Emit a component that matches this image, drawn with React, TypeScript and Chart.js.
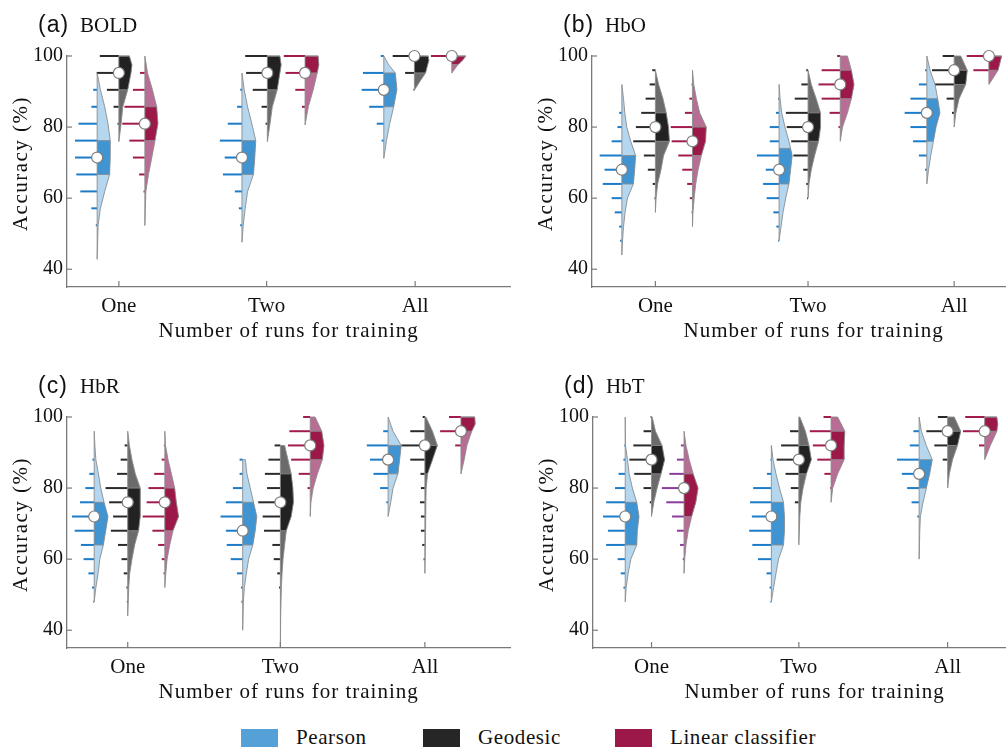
import React, { useEffect, useRef } from "react";
import { Chart, registerables } from "chart.js";
Chart.register(...registerables);

type Violin = { x: number; med: number; q1: number; q3: number; shape: number[][]; rug: number[][] };

const categories = ["One", "Two", "All"];
const methods = ["Pearson", "Geodesic", "Linear classifier"];
const yTicks = [40, 60, 80, 100];
const panelLetters = ["(a)", "(b)", "(c)", "(d)"];
const panelNames = ["BOLD", "HbO", "HbR", "HbT"];
const xTitle = "Number of runs for training";
const yTitle = "Accuracy (%)";

// category tick positions per panel
const boldTicks = [1, 2, 3.005];
const hboTicks = [1, 2.033, 3.022];
const hbrTicks = [1, 2.033, 3.011];
const hbtTicks = [1, 1.997, 3.004];
const xMins = [0.649, 0.571, 0.589, 0.604];

// shape: [accuracy, density]; rug: [accuracy, count]
const boldPearson: Violin[] = [
  { x: 0.853, med: 71.43, q1: 66.67, q3: 76.19,
    shape: [[95.2, 0], [90.5, 0.33], [85.7, 0.77], [81, 1.1], [76.2, 1.33], [71.4, 1.33], [66.7, 1.27], [61.9, 0.77], [57.1, 0.33], [52.4, 0.1], [42.8, 0]],
    rug: [[90.48, 0.9], [85.71, 1.3], [80.95, 4.2], [76.19, 5], [71.43, 5], [66.67, 4.7], [61.9, 3.8], [57.14, 1.3], [52.38, 0.3]] },
  { x: 1.833, med: 71.43, q1: 66.67, q3: 76.19,
    shape: [[95.2, 0], [90.5, 0.23], [85.7, 0.57], [81, 1.0], [76.2, 1.4], [71.4, 1.3], [66.7, 1.17], [61.9, 0.57], [57.1, 0.33], [52.4, 0.13], [47.6, 0]],
    rug: [[90.48, 0.4], [85.71, 1.1], [80.95, 3.2], [76.19, 5], [71.43, 3.9], [66.67, 4.3], [61.9, 1.6], [57.14, 0.7], [52.38, 0.4]] },
  { x: 2.793, med: 90.48, q1: 85.71, q3: 95.24,
    shape: [[100, 0], [97.5, 0.5], [95.2, 1.17], [90.5, 1.33], [85.7, 1.0], [81, 0.6], [76.2, 0.27], [71.2, 0]],
    rug: [[100, 0.7], [95.24, 4.7], [90.48, 5], [85.71, 3.3], [80.95, 1.6], [76.19, 0.5]] },
];
const boldGeodesic: Violin[] = [
  { x: 1.0, med: 95.24, q1: 90.48, q3: 100,
    shape: [[100, 1.07], [97.5, 1.33], [95.2, 1.23], [90.5, 0.9], [85.7, 0.4], [81, 0.23], [75.9, 0]],
    rug: [[100, 4.3], [95.24, 5], [90.48, 2.7], [85.71, 1.2], [80.95, 0.3]] },
  { x: 2.005, med: 95.24, q1: 90.48, q3: 100,
    shape: [[100, 1.27], [97.5, 1.4], [95.2, 1.27], [90.5, 1.0], [85.7, 0.5], [81, 0.27], [75.9, 0]],
    rug: [[100, 5], [95.24, 4.8], [90.48, 3.3], [85.71, 1.3], [80.95, 0.4]] },
  { x: 3.0, med: 100, q1: 95.24, q3: 100,
    shape: [[100, 1.4], [98.8, 1.47], [95.2, 1.13], [92.9, 0.57], [90.4, 0]],
    rug: [[100, 4.9], [95.24, 2.1], [90.48, 0.2]] },
];
const boldLinear: Violin[] = [
  { x: 1.176, med: 80.95, q1: 76.19, q3: 85.71,
    shape: [[100, 0], [95.2, 0.27], [90.5, 0.77], [85.7, 1.2], [81, 1.33], [76.2, 1.03], [71.4, 0.7], [66.7, 0.37], [61.9, 0.1], [52.3, 0]],
    rug: [[95.24, 1.1], [90.48, 2.7], [85.71, 4.6], [80.95, 5.1], [76.19, 3.5], [71.43, 2.7], [66.67, 1.3], [61.9, 0.3]] },
  { x: 2.26, med: 95.24, q1: 95.24, q3: 100,
    shape: [[100, 1.33], [97.5, 1.4], [95.2, 1.23], [90.5, 0.83], [85.7, 0.33], [80.6, 0]],
    rug: [[100, 4.8], [95.24, 4.4], [90.48, 2.2], [85.71, 0.7]] },
  { x: 3.253, med: 100, q1: 97.6, q3: 100,
    shape: [[100, 1.43], [98.8, 1.1], [97.5, 0.6], [95.2, 0]],
    rug: [[100, 4.7]] },
];

const hboPearson: Violin[] = [
  { x: 0.773, med: 68, q1: 64, q3: 72,
    shape: [[92, 0], [88, 0.17], [84, 0.3], [80, 0.5], [76, 0.9], [72, 1.4], [68, 1.3], [64, 1.17], [60, 0.57], [56, 0.33], [52, 0.17], [48, 0.07], [44, 0]],
    rug: [[84, 0.6], [80, 1.0], [76, 2.3], [72, 5], [68, 3.9], [64, 4.3], [60, 2.3], [56, 1.6], [52, 0.6], [48, 0.4]] },
  { x: 1.837, med: 68, q1: 64, q3: 74,
    shape: [[92, 0], [88, 0.1], [84, 0.27], [80, 0.6], [76, 1.0], [72, 1.33], [68, 1.17], [64, 1.0], [60, 0.67], [56, 0.4], [52, 0.2], [48, 0]],
    rug: [[88, 0.2], [84, 0.7], [80, 2.1], [76, 2.1], [72, 5], [68, 3.0], [64, 3.6], [60, 2.8], [56, 1.3], [52, 0.6], [48, 0.2]] },
  { x: 2.837, med: 84, q1: 76, q3: 88,
    shape: [[100, 0], [96, 0.33], [92, 0.83], [88, 1.1], [84, 1.33], [80, 0.93], [76, 0.67], [72, 0.4], [68, 0.17], [64, 0]],
    rug: [[96, 0.4], [92, 1.8], [88, 3.7], [84, 5], [80, 3.7], [76, 3.1], [72, 1.8], [68, 0.4]] },
];
const hboGeodesic: Violin[] = [
  { x: 1.0, med: 80, q1: 76, q3: 84,
    shape: [[96, 0], [92, 0.33], [88, 0.77], [84, 1.1], [80, 1.33], [76, 1.43], [72, 0.83], [68, 0.57], [64, 0.23], [60, 0.07], [56, 0]],
    rug: [[96, 0.7], [92, 1.3], [88, 2.2], [84, 3.2], [80, 4.4], [76, 5], [72, 2.6], [68, 1.7], [64, 0.6], [60, 0.2]] },
  { x: 2.033, med: 80, q1: 76, q3: 84,
    shape: [[96, 0], [92, 0.33], [88, 0.83], [84, 1.27], [80, 1.27], [76, 1.07], [72, 0.67], [68, 0.33], [64, 0.1], [60, 0]],
    rug: [[96, 0.4], [92, 1.5], [88, 3.0], [84, 5], [80, 4.8], [76, 3.8], [72, 3.3], [68, 1.1], [64, 0.4], [60, 0.2]] },
  { x: 3.022, med: 96, q1: 92, q3: 96,
    shape: [[100, 0.67], [98, 1.0], [96, 1.33], [92, 1.17], [88, 0.5], [84, 0.17], [80, 0]],
    rug: [[100, 2.6], [96, 5], [92, 4.7], [88, 1.7], [84, 0.5]] },
];
const hboLinear: Violin[] = [
  { x: 1.251, med: 76, q1: 72, q3: 80,
    shape: [[96, 0], [92, 0.13], [88, 0.4], [84, 0.73], [80, 1.4], [76, 1.33], [72, 0.9], [68, 0.57], [64, 0.33], [60, 0.17], [56, 0.05], [52, 0]],
    rug: [[92, 0.2], [88, 0.7], [84, 1.7], [80, 4.9], [76, 4.7], [72, 3.2], [68, 2.3], [64, 1.2], [60, 0.6], [56, 0.2]] },
  { x: 2.251, med: 92, q1: 88, q3: 96,
    shape: [[100, 0.73], [96, 1.13], [92, 1.4], [88, 1.13], [84, 0.73], [80, 0.23], [76, 0]],
    rug: [[100, 0.7], [96, 4.2], [92, 4.9], [88, 4.2], [84, 2.4], [80, 0.4]] },
  { x: 3.257, med: 100, q1: 96, q3: 100,
    shape: [[100, 1.3], [96, 0.93], [92, 0]],
    rug: [[100, 5], [96, 3.5]] },
];

const hbrPearson: Violin[] = [
  { x: 0.773, med: 72, q1: 64, q3: 76,
    shape: [[96, 0], [92, 0.07], [88, 0.17], [84, 0.43], [80, 0.67], [76, 1.0], [72, 1.4], [68, 1.17], [64, 0.93], [60, 0.57], [56, 0.4], [52, 0.17], [48, 0]],
    rug: [[88, 0.4], [84, 1.1], [80, 2.0], [76, 3.2], [72, 5], [68, 4.4], [64, 3.0], [60, 2.4], [56, 1.3], [52, 0.5], [48, 0.2]] },
  { x: 1.778, med: 68, q1: 64, q3: 76,
    shape: [[88, 0.27], [84, 0.43], [80, 0.77], [76, 1.1], [72, 1.43], [68, 1.27], [64, 1.03], [60, 0.6], [56, 0.37], [52, 0.17], [48, 0.07], [40, 0]],
    rug: [[88, 0.7], [84, 0.7], [80, 2.2], [76, 3.8], [72, 5], [68, 3.8], [64, 3.6], [60, 2.7], [56, 1.3], [52, 0.4], [48, 0.3]] },
  { x: 2.762, med: 88, q1: 84, q3: 92,
    shape: [[100, 0], [96, 0.5], [92, 1.33], [88, 1.17], [84, 1.0], [80, 0.5], [76, 0.27], [72, 0]],
    rug: [[96, 1.1], [92, 4.8], [88, 4.1], [84, 3.3], [80, 1.8], [76, 0.4]] },
];
const hbrGeodesic: Violin[] = [
  { x: 1.0, med: 76, q1: 68, q3: 80,
    shape: [[96, 0], [92, 0.17], [88, 0.43], [84, 0.77], [80, 1.27], [76, 1.27], [72, 1.27], [68, 1.1], [64, 0.7], [60, 0.43], [56, 0.2], [52, 0.1], [44, 0]],
    rug: [[92, 0.7], [88, 1.6], [84, 2.4], [80, 5], [76, 4.2], [72, 3.3], [68, 3.8], [64, 2.2], [60, 1.4], [56, 0.9], [52, 0.3], [48, 0.2]] },
  { x: 2.033, med: 76, q1: 68, q3: 84,
    shape: [[92, 0.43], [88, 0.77], [84, 1.1], [80, 1.27], [76, 1.33], [72, 1.1], [68, 0.6], [64, 0.43], [60, 0.27], [56, 0.17], [52, 0.1], [44, 0.03], [35, 0]],
    rug: [[92, 1.3], [88, 2.7], [84, 3.5], [80, 3.0], [76, 5], [72, 4.0], [68, 3.7], [64, 1.8], [60, 1.5], [56, 0.7], [52, 0.3]] },
  { x: 3.011, med: 92, q1: 84, q3: 92,
    shape: [[100, 0.1], [96, 0.77], [92, 1.27], [88, 0.77], [84, 0.27], [80, 0.13], [76, 0.1], [68, 0.07], [56, 0]],
    rug: [[100, 0.5], [96, 3.3], [92, 5.3], [88, 3.3], [84, 1.0], [80, 0.9], [76, 1.1], [72, 0.9], [68, 0.9], [64, 0.6], [60, 0.3]] },
];
const hbrLinear: Violin[] = [
  { x: 1.251, med: 76, q1: 68, q3: 80,
    shape: [[96, 0], [92, 0.07], [88, 0.33], [84, 0.67], [80, 1.0], [76, 1.17], [72, 1.4], [68, 0.83], [64, 0.5], [60, 0.23], [56, 0.1], [52, 0]],
    rug: [[92, 0.2], [88, 0.7], [84, 2.4], [80, 3.7], [76, 4.1], [72, 5], [68, 2.8], [64, 1.5], [60, 0.7], [56, 0.3]] },
  { x: 2.235, med: 92, q1: 88, q3: 96,
    shape: [[100, 0.5], [96, 1.17], [92, 1.4], [88, 1.23], [84, 0.73], [80, 0.3], [76, 0.07], [72, 0]],
    rug: [[100, 1.6], [96, 4.7], [92, 5], [88, 4.3], [84, 2.6], [80, 0.6]] },
  { x: 3.255, med: 96, q1: 96, q3: 100,
    shape: [[100, 1.4], [98, 1.45], [96, 1.1], [92, 0.6], [88, 0.33], [84, 0]],
    rug: [[100, 2.7], [96, 4.7], [92, 1.3]] },
];

const hbtPearson: Violin[] = [
  { x: 0.822, med: 72, q1: 64, q3: 76,
    shape: [[100, 0], [92, 0.03], [88, 0.23], [84, 0.4], [80, 0.73], [76, 1.17], [72, 1.4], [68, 1.23], [64, 1.17], [60, 0.57], [56, 0.3], [52, 0.1], [48, 0]],
    rug: [[92, 0.2], [88, 0.4], [84, 1.5], [80, 2.3], [76, 4.3], [72, 5], [68, 3.9], [64, 4.3], [60, 1.7], [56, 1.0], [52, 0.4]] },
  { x: 1.811, med: 72, q1: 64, q3: 76,
    shape: [[92, 0], [88, 0.17], [84, 0.47], [80, 0.83], [76, 1.23], [72, 1.33], [68, 1.33], [64, 1.23], [60, 0.73], [56, 0.47], [52, 0.23], [48, 0]],
    rug: [[88, 0.2], [84, 1.0], [80, 4.1], [76, 4.8], [72, 4.4], [68, 5], [64, 4.3], [60, 3.0], [56, 1.1], [52, 0.4], [48, 0.2]] },
  { x: 2.811, med: 84, q1: 80, q3: 88,
    shape: [[100, 0], [96, 0.23], [92, 0.73], [88, 1.33], [84, 1.07], [80, 0.73], [76, 0.4], [72, 0.13], [68, 0.07], [60, 0]],
    rug: [[96, 1.3], [92, 2.1], [88, 5], [84, 3.9], [80, 2.7], [76, 1.7], [72, 0.4]] },
];
const hbtGeodesic: Violin[] = [
  { x: 1.0, med: 88, q1: 84, q3: 92,
    shape: [[100, 0.07], [96, 0.4], [92, 1.07], [88, 1.33], [84, 0.97], [80, 0.57], [76, 0.23], [72, 0]],
    rug: [[100, 0.2], [96, 1.8], [92, 4.1], [88, 5], [84, 3.9], [80, 1.8], [76, 0.4]] },
  { x: 1.997, med: 88, q1: 84, q3: 92,
    shape: [[100, 0.1], [96, 0.67], [92, 1.03], [88, 1.27], [84, 0.77], [80, 0.43], [76, 0.2], [72, 0.1], [64, 0]],
    rug: [[96, 2.0], [92, 4.0], [88, 5], [84, 3.0], [80, 1.8], [76, 0.9]] },
  { x: 3.004, med: 96, q1: 92, q3: 96,
    shape: [[100, 0.67], [98, 1.0], [96, 1.33], [92, 1.0], [88, 0.5], [84, 0.17], [80, 0]],
    rug: [[100, 2.2], [96, 4.8], [92, 3.0], [88, 1.1]] },
];
const hbtLinear: Violin[] = [
  { x: 1.22, med: 80, q1: 72, q3: 84,
    shape: [[96, 0], [92, 0.2], [88, 0.53], [84, 0.93], [80, 1.43], [76, 1.2], [72, 0.77], [68, 0.43], [64, 0.2], [60, 0.07], [56, 0]],
    rug: [[92, 0.7], [88, 1.6], [84, 3.3], [80, 5], [76, 4.0], [72, 2.7], [68, 1.6], [64, 0.9], [60, 0.3]] },
  { x: 2.215, med: 92, q1: 88, q3: 96,
    shape: [[100, 0.67], [96, 1.4], [92, 1.33], [88, 1.33], [84, 0.67], [80, 0.17], [76, 0]],
    rug: [[100, 1.7], [96, 4.8], [92, 4.1], [88, 3.1], [84, 1.5], [80, 0.2]] },
  { x: 3.255, med: 96, q1: 96, q3: 100,
    shape: [[100, 1.23], [98, 1.33], [96, 1.23], [92, 0.57], [88, 0]],
    rug: [[100, 4.4], [96, 4.9], [92, 1.3]] },
];

// ---- styles ----
const SERIF = '"Liberation Serif", "Times New Roman", serif';
const SANS = '"Liberation Sans", Arial, sans-serif';
const lightColors = ["#b4d6ee", "#6b6b6b", "#b86d95"];
const darkColors = ["#4094d2", "#222222", "#9b1848"];
const rugColors = ["#1b7cc9", "#2a2a2a", "#a21b4e"];
const legendColors = ["#56a0d8", "#262626", "#9b1848"];
const rugOverride: Record<string, string> = { "3-2-0": "#8c3c9c" };
const outlineColor = "#8c8c8c";
const axisColor = "#7a7a7a";
const textColor = "#111111";
const DENSITY_TO_X = 10 / 150;
const COUNT_TO_X = 4.5 / 150;

const panelSets: Violin[][][] = [
  [boldPearson, boldGeodesic, boldLinear],
  [hboPearson, hboGeodesic, hboLinear],
  [hbrPearson, hbrGeodesic, hbrLinear],
  [hbtPearson, hbtGeodesic, hbtLinear],
];
const panelTicks = [boldTicks, hboTicks, hbrTicks, hbtTicks];
const panelBoxes = [
  { left: 0, top: 0 },
  { left: 525, top: 0 },
  { left: 0, top: 361 },
  { left: 526, top: 361 },
];
const CW = 517;
const CH = 347;

function widthAt(shape: number[][], v: number) {
  for (let i = 0; i < shape.length - 1; i++) {
    const [v0, w0] = shape[i];
    const [v1, w1] = shape[i + 1];
    if (v <= v0 && v >= v1) {
      if (v0 === v1) return Math.max(w0, w1);
      return w0 + ((w1 - w0) * (v0 - v)) / (v0 - v1);
    }
  }
  if (shape.length && v === shape[0][0]) return shape[0][1];
  return 0;
}

function makePlugin(pIdx: number, sets: Violin[][], ticks: number[]) {
  return {
    id: "violinPanel" + pIdx,
    beforeDatasetsDraw(chart: any) {
      const ctx: CanvasRenderingContext2D = chart.ctx;
      const xs = chart.scales.x;
      const ys = chart.scales.y;
      const X = (v: number) => xs.getPixelForValue(v);
      const Y = (v: number) => ys.getPixelForValue(v);
      ctx.save();
      ctx.lineCap = "butt";
      sets.forEach((set, mi) =>
        set.forEach((vi, ci) => {
          ctx.strokeStyle = rugOverride[`${pIdx}-${mi}-${ci}`] || rugColors[mi];
          ctx.lineWidth = 2;
          vi.rug.forEach(([v, n]) => {
            ctx.beginPath();
            ctx.moveTo(X(vi.x - n * COUNT_TO_X), Y(v));
            ctx.lineTo(X(vi.x), Y(v));
            ctx.stroke();
          });
        })
      );
      sets.forEach((set, mi) =>
        set.forEach((vi) => {
          const s = vi.shape;
          const path = new Path2D();
          path.moveTo(X(vi.x), Y(s[0][0]));
          s.forEach(([v, w]) => path.lineTo(X(vi.x + w * DENSITY_TO_X), Y(v)));
          path.lineTo(X(vi.x), Y(s[s.length - 1][0]));
          path.closePath();
          ctx.fillStyle = lightColors[mi];
          ctx.fill(path);
          ctx.save();
          const yTop = Y(vi.q3);
          const yBot = Y(vi.q1);
          ctx.beginPath();
          ctx.rect(X(vi.x) - 2, yTop, 60, yBot - yTop);
          ctx.clip();
          ctx.fillStyle = darkColors[mi];
          ctx.fill(path);
          ctx.restore();
          ctx.strokeStyle = outlineColor;
          ctx.lineWidth = 0.9;
          ctx.lineJoin = "round";
          ctx.stroke(path);
          [vi.q1, vi.q3].forEach((q) => {
            const w = widthAt(s, q);
            ctx.beginPath();
            ctx.moveTo(X(vi.x), Y(q));
            ctx.lineTo(X(vi.x + w * DENSITY_TO_X), Y(q));
            ctx.stroke();
          });
        })
      );
      ctx.restore();
    },
    afterDraw(chart: any) {
      const ctx: CanvasRenderingContext2D = chart.ctx;
      const ca = chart.chartArea;
      const xs = chart.scales.x;
      const ys = chart.scales.y;
      ctx.save();
      ctx.strokeStyle = axisColor;
      ctx.lineWidth = 1.2;
      ticks.forEach((t) => {
        const x = xs.getPixelForValue(t);
        ctx.beginPath();
        ctx.moveTo(x, ca.bottom);
        ctx.lineTo(x, ca.bottom - 6);
        ctx.stroke();
      });
      yTicks.forEach((t) => {
        const y = ys.getPixelForValue(t);
        ctx.beginPath();
        ctx.moveTo(ca.left, y);
        ctx.lineTo(ca.left + 5, y);
        ctx.stroke();
      });
      ctx.fillStyle = textColor;
      ctx.textAlign = "center";
      ctx.textBaseline = "middle";
      ctx.font = `21px ${SERIF}`;
      (ctx as any).letterSpacing = "1px";
      ctx.fillText(xTitle, (ca.left + ca.right) / 2, ca.bottom + 44);
      ctx.save();
      ctx.translate(21, (ca.top + ca.bottom) / 2 - 8);
      ctx.rotate(-Math.PI / 2);
      (ctx as any).letterSpacing = "1.5px";
      ctx.fillText(yTitle, 0, 0);
      ctx.restore();
      // panel title
      ctx.textAlign = "left";
      ctx.textBaseline = "alphabetic";
      (ctx as any).letterSpacing = "1px";
      ctx.font = `23px ${SANS}`;
      ctx.fillText(panelLetters[pIdx], 38, 32);
      (ctx as any).letterSpacing = "0px";
      ctx.font = `21px ${SERIF}`;
      ctx.fillText(panelNames[pIdx], 80, 32);
      ctx.restore();
    },
  };
}

function Panel({ pIdx }: { pIdx: number }) {
  const ref = useRef<HTMLCanvasElement>(null);
  useEffect(() => {
    const canvas = ref.current!;
    const sets = panelSets[pIdx];
    const ticks = panelTicks[pIdx];
    const xMin = xMins[pIdx];
    const chart = new Chart(canvas, {
      type: "scatter",
      data: {
        datasets: methods.map((m, mi) => ({
          label: m,
          data: sets[mi].map((v) => ({ x: v.x, y: v.med })),
          pointRadius: 5.5,
          pointHoverRadius: 5.5,
          pointBorderWidth: 1.2,
          pointBackgroundColor: "#ffffff",
          pointBorderColor: "#7d7d7d",
          clip: false as any,
        })),
      },
      options: {
        animation: false,
        responsive: false,
        maintainAspectRatio: false,
        events: [],
        layout: { padding: { left: 0, top: 56, right: 0, bottom: 0 } },
        plugins: { legend: { display: false }, tooltip: { enabled: false }, title: { display: false } },
        scales: {
          x: {
            type: "linear",
            min: xMin,
            max: xMin + 3,
            afterBuildTicks: (s: any) => {
              s.ticks = ticks.map((v) => ({ value: v }));
            },
            afterFit: (s: any) => {
              s.height = 60;
            },
            ticks: {
              callback: (_v: any, i: number) => categories[i],
              font: { family: SERIF, size: 21 },
              color: textColor,
              padding: 7,
              autoSkip: false,
              maxRotation: 0,
              minRotation: 0,
            },
            grid: { display: false, drawTicks: false },
            border: { display: true, color: axisColor, width: 1.3 },
          },
          y: {
            type: "linear",
            min: 35,
            max: 100,
            afterBuildTicks: (s: any) => {
              s.ticks = yTicks.map((v) => ({ value: v }));
            },
            afterFit: (s: any) => {
              s.width = 67;
            },
            ticks: {
              font: { family: SERIF, size: 20 },
              color: textColor,
              padding: 4,
            },
            grid: { display: false, drawTicks: false },
            border: { display: true, color: axisColor, width: 1.3 },
          },
        },
      },
      plugins: [makePlugin(pIdx, sets, ticks)],
    } as any);
    return () => chart.destroy();
  }, [pIdx]);
  const box = panelBoxes[pIdx];
  return (
    <canvas
      ref={ref}
      width={CW}
      height={CH}
      style={{ position: "absolute", left: box.left, top: box.top, width: CW, height: CH }}
    />
  );
}

const legendSwatchX = [241, 423, 615];
const legendTextX = [296, 478, 670];

export default function App() {
  return (
    <div
      style={{
        position: "fixed",
        left: 0,
        top: 0,
        width: 1006,
        height: 748,
        overflow: "hidden",
        background: "#ffffff",
      }}
    >
      {[0, 1, 2, 3].map((i) => (
        <Panel key={i} pIdx={i} />
      ))}
      {methods.map((m, i) => (
        <React.Fragment key={m}>
          <div
            style={{
              position: "absolute",
              left: legendSwatchX[i],
              top: 729,
              width: 37,
              height: 18,
              background: legendColors[i],
            }}
          />
          <span
            style={{
              position: "absolute",
              left: legendTextX[i],
              top: 727,
              fontFamily: SERIF,
              fontSize: 21,
              lineHeight: "21px",
              letterSpacing: "0.6px",
              color: textColor,
              whiteSpace: "nowrap",
            }}
          >
            {m}
          </span>
        </React.Fragment>
      ))}
    </div>
  );
}
